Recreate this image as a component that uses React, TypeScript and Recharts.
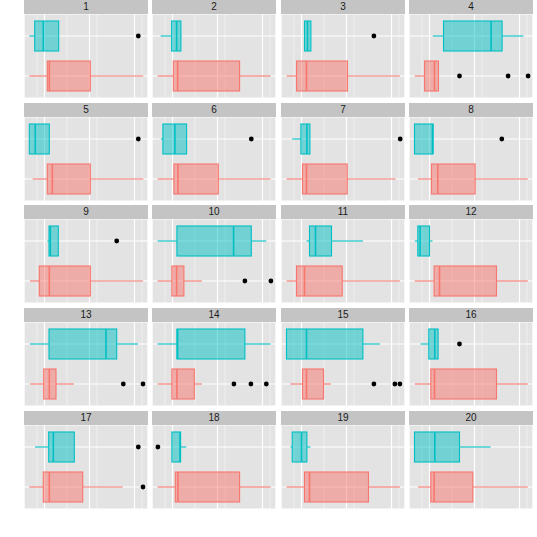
import React from 'react';
import { ComposedChart, Bar, XAxis, YAxis, CartesianGrid } from 'recharts';

// Facet labels
const panelLabels = ['1','2','3','4','5','6','7','8','9','10','11','12','13','14','15','16','17','18','19','20'];
// Two groups: top (teal) and bottom (red)
const groupNames = ['teal', 'red'];

// Teal group (top) five-number summaries per panel
const tealLo  = [5.3, 8.6, 23.5, 23.8, 5.3, 8.9, 11.2, 5.5, 23.3, 5.6, 25.5, 5.8, 6.0, 5.6, 5.5, 11.5, 11.0, 19.9, 9.5, 5.5];
const tealQ1  = [10.7, 19.6, 23.5, 34.5, 5.3, 10.9, 19.9, 5.5, 25.0, 24.9, 28.5, 8.8, 25.0, 24.9, 5.5, 19.8, 24.7, 19.9, 11.2, 5.5];
const tealMed = [19.3, 24.6, 26.5, 82.1, 11.3, 22.9, 25.9, 23.5, 26.3, 81.6, 34.5, 11.1, 82.0, 25.6, 25.5, 25.8, 29.3, 28.0, 20.5, 25.8];
const tealQ3  = [34.7, 28.9, 29.9, 93.1, 25.3, 34.6, 28.9, 24.1, 34.3, 99.3, 50.5, 20.5, 92.7, 92.9, 81.9, 29.1, 50.3, 28.6, 25.9, 50.5];
const tealHi  = [34.7, 29.6, 29.9, 114.5, 25.3, 34.6, 28.9, 24.1, 34.3, 114.3, 81.9, 23.5, 114.0, 118.6, 98.9, 29.1, 50.3, 34.3, 29.5, 81.5];
const tealOut: number[][] = [[114.3], [], [92.9], [], [114.3], [99.3], [119.2], [92.8], [92.7], [], [], [], [], [], [], [50.5], [114.3], [5.9], [], []];

// Red group (bottom) five-number summaries per panel
const redLo  = [5.3, 5.6, 5.5, 5.8, 8.7, 5.6, 5.5, 8.8, 6.0, 5.6, 5.5, 5.8, 6.0, 5.6, 9.5, 5.8, 5.3, 5.6, 5.5, 9.1];
const redQ1  = [23.3, 21.3, 15.5, 15.5, 23.3, 21.9, 21.5, 22.5, 15.3, 19.9, 15.5, 25.1, 19.7, 19.9, 21.5, 21.8, 19.3, 23.3, 23.5, 21.8];
const redMed = [25.3, 25.6, 25.5, 25.5, 28.3, 25.9, 25.5, 28.8, 25.3, 24.6, 23.5, 30.5, 25.3, 24.9, 25.5, 25.5, 25.3, 25.9, 28.5, 25.1];
const redQ3  = [66.3, 87.6, 66.5, 29.5, 66.3, 66.3, 66.2, 66.1, 66.3, 31.9, 61.2, 87.5, 32.0, 42.3, 42.5, 87.5, 58.7, 87.6, 87.5, 63.8];
const redHi  = [119.3, 118.6, 118.9, 29.5, 119.3, 118.6, 114.5, 118.8, 119.0, 49.9, 118.9, 118.8, 50.0, 49.9, 49.9, 118.8, 98.7, 118.6, 118.9, 118.8];
const redOut: number[][] = [[], [], [], [50.5, 99.1, 119.1], [], [], [], [], [], [92.9, 118.9], [], [], [99.3, 119.0], [81.9, 98.9, 114.3], [92.9, 113.9, 118.9], [], [119.0], [], [], []];

// Axis domain and grid breaks (shared across panels)
const xDomain = [0, 124];
const majorBreaks = [5.5, 20.5, 35.5, 50.5, 65.5, 80.5, 95.5, 110.5];
const minorBreaks = [13, 28, 43, 58, 73, 88, 103, 118];

const COLORS: Record<string, string> = { teal: '#00BFC4', red: '#F8766D' };
const PANEL_BG = '#E3E3E3';
const STRIP_BG = '#C4C4C4';

const PW = 124;
const PH = 84;
const SH = 14;
const COL_STEP = 128.4;
const ROW_STEP = 102.7;
const LEFT0 = 24;

const yIds = ['wl', 'wu', 'box', 'med', 'o1', 'o2', 'o3'];

const WhiskerShape = (p: any) => {
  if (!p || p.payload == null || !isFinite(p.x) || !isFinite(p.width)) return <g />;
  const c = COLORS[p.payload.g];
  const cy = p.y + p.height / 2;
  return <line x1={p.x} x2={p.x + p.width} y1={cy} y2={cy} stroke={c} strokeWidth={1.1} />;
};

const BoxShape = (p: any) => {
  if (!p || p.payload == null || !isFinite(p.x) || !isFinite(p.width)) return <g />;
  const c = COLORS[p.payload.g];
  return (
    <rect x={p.x} y={p.y} width={p.width} height={p.height} fill={c} fillOpacity={0.5} stroke={c} strokeWidth={1.1} />
  );
};

const MedianShape = (p: any) => {
  if (!p || p.payload == null || !isFinite(p.x) || !isFinite(p.width)) return <g />;
  const c = COLORS[p.payload.g];
  const cx = p.x + p.width / 2;
  return <line x1={cx} x2={cx} y1={p.y} y2={p.y + p.height} stroke={c} strokeWidth={1.6} />;
};

const makeOutlierShape = (key: string) => (p: any) => {
  if (!p || p.payload == null || p.payload[key] == null || !isFinite(p.x)) return <g />;
  const cx = p.x + (p.width || 0) / 2;
  const cy = p.y + p.height / 2;
  return <circle cx={cx} cy={cy} r={2.4} fill="#000" />;
};

function buildRows(i: number) {
  return groupNames.map((g) => {
    const lo = g === 'teal' ? tealLo[i] : redLo[i];
    const q1 = g === 'teal' ? tealQ1[i] : redQ1[i];
    const md = g === 'teal' ? tealMed[i] : redMed[i];
    const q3 = g === 'teal' ? tealQ3[i] : redQ3[i];
    const hi = g === 'teal' ? tealHi[i] : redHi[i];
    const outs = g === 'teal' ? tealOut[i] : redOut[i];
    const row: any = {
      g,
      wl: [lo, q1],
      wu: [q3, hi],
      box: [q1, q3],
      med: [md, md],
    };
    ['o1', 'o2', 'o3'].forEach((k, j) => {
      row[k] = outs[j] != null ? [outs[j], outs[j]] : null;
    });
    return row;
  });
}

function Panel({ i }: { i: number }) {
  const col = i % 4;
  const rowIdx = Math.floor(i / 4);
  const left = Math.round(LEFT0 + col * COL_STEP);
  const top = Math.round(rowIdx * ROW_STEP);
  const data = buildRows(i);
  return (
    <>
      <div
        style={{
          position: 'absolute',
          left,
          top,
          width: PW,
          height: SH,
          background: STRIP_BG,
          color: '#1A1A1A',
          fontFamily: '"Liberation Sans", Arial, sans-serif',
          fontSize: 10,
          lineHeight: `${SH}px`,
          textAlign: 'center',
        }}
      >
        {panelLabels[i]}
      </div>
      <div style={{ position: 'absolute', left, top: top + SH, width: PW, height: PH }}>
        <ComposedChart
          width={PW}
          height={PH}
          data={data}
          layout="vertical"
          margin={{ top: 0, right: 0, bottom: 0, left: 0 }}
          barGap={0}
          barCategoryGap={0}
        >
          <XAxis xAxisId="major" type="number" domain={xDomain} ticks={majorBreaks} allowDataOverflow hide />
          <XAxis xAxisId="minor" type="number" domain={xDomain} ticks={minorBreaks} allowDataOverflow hide />
          {yIds.map((id) => (
            <YAxis key={id} yAxisId={id} type="category" dataKey="g" hide padding={{ top: 2, bottom: 2 }} />
          ))}
          <CartesianGrid xAxisId="minor" yAxisId="wl" horizontal={false} stroke="#F4F4F4" strokeWidth={0.7} fill={PANEL_BG} fillOpacity={1} />
          <CartesianGrid xAxisId="major" yAxisId="wl" stroke="#FFFFFF" strokeWidth={1.2} />
          <Bar xAxisId="minor" yAxisId="wl" dataKey="wl" barSize={30} shape={WhiskerShape} isAnimationActive={false} />
          <Bar xAxisId="major" yAxisId="wu" dataKey="wu" barSize={30} shape={WhiskerShape} isAnimationActive={false} />
          <Bar xAxisId="major" yAxisId="box" dataKey="box" barSize={30} shape={BoxShape} isAnimationActive={false} />
          <Bar xAxisId="major" yAxisId="med" dataKey="med" barSize={30} shape={MedianShape} isAnimationActive={false} />
          <Bar xAxisId="major" yAxisId="o1" dataKey="o1" barSize={30} shape={makeOutlierShape('o1')} isAnimationActive={false} />
          <Bar xAxisId="major" yAxisId="o2" dataKey="o2" barSize={30} shape={makeOutlierShape('o2')} isAnimationActive={false} />
          <Bar xAxisId="major" yAxisId="o3" dataKey="o3" barSize={30} shape={makeOutlierShape('o3')} isAnimationActive={false} />
        </ComposedChart>
      </div>
    </>
  );
}

export default function App() {
  return (
    <div style={{ position: 'absolute', left: 0, top: 0, width: 537, height: 537, background: '#FFFFFF', overflow: 'hidden' }}>
      {panelLabels.map((_, i) => (
        <Panel key={i} i={i} />
      ))}
    </div>
  );
}
